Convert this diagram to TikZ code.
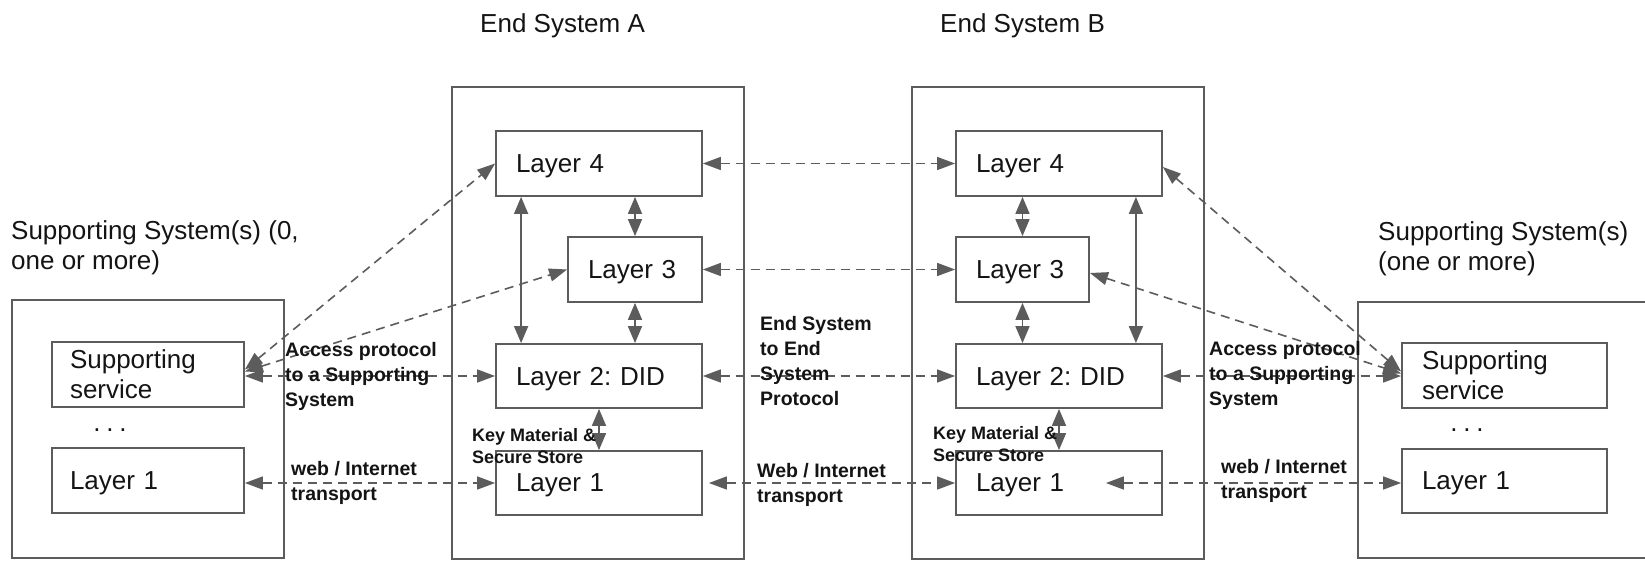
\documentclass[tikz,border=0pt]{standalone}
\usepackage{fontspec}
\setmainfont{Liberation Sans}
\usetikzlibrary{arrows.meta}
\definecolor{lin}{RGB}{92,92,92}
\definecolor{txt}{RGB}{20,20,20}
\frenchspacing
\tikzset{
  box/.style={draw=lin, line width=1.8pt, rectangle, inner ysep=0pt, text=txt},
  lay/.style={box, align=left, inner xsep=20pt, font=\fontsize{26}{30}\selectfont},
  lay1/.style={lay, text depth=0pt},
  outer/.style={draw=lin, line width=1.8pt, rectangle, inner sep=0pt},
  title/.style={inner sep=0pt, anchor=west, align=left, text=txt, text depth=0pt, font=\fontsize{26}{30}\selectfont},
  blbl/.style={inner sep=0pt, anchor=west, align=left, text=txt, font=\fontsize{19.5}{25}\selectfont\bfseries},
  klbl/.style={inner sep=0pt, anchor=west, align=left, text=txt, font=\fontsize{18}{22.5}\selectfont\bfseries},
  dar/.style={draw=lin, line width=1.6pt, dash pattern=on 9pt off 6pt,
    {Triangle[length=18pt,width=13pt]}-{Triangle[length=18pt,width=13pt]}},
  sar/.style={draw=lin, line width=1.6pt,
    {Triangle[length=17pt,width=14pt]}-{Triangle[length=17pt,width=14pt]}},
}
\newcommand{\mydots}{.\hspace{5.8pt}.\hspace{5.8pt}.}
\begin{document}
\begin{tikzpicture}[x=1pt,y=-1pt]
\fill[white] (0,0) rectangle (1645,561);
\clip (0,0) rectangle (1645,561);

% titles
\node[title] (tA) at (480,23) {End System A};
\node[title] (tB) at (940,23) {End System B};
\node[title, text depth=] (tSL) at (11,248) {Supporting System(s) (0,\\one or more)};
\node[title, text depth=] (tSR) at (1378,249) {Supporting System(s)\\(one or more)};

% outer boxes
\node[outer, minimum width=272pt, minimum height=258pt] (SSL) at (148,429) {};
\node[outer, minimum width=292pt, minimum height=472pt] (ESA) at (598,323) {};
\node[outer, minimum width=292pt, minimum height=472pt] (ESB) at (1058,323) {};
\node[outer, minimum width=292pt, minimum height=256pt] (SSR) at (1504,430) {};

% left supporting system
\node[lay, inner xsep=18pt, text width=156pt, minimum height=65pt] (svcL) at (148,374.5) {Supporting\\service};
\node[lay1, inner xsep=18pt, text width=156pt, minimum height=65pt] (L1L) at (148,480.5) {Layer 1};
\node[title, anchor=center] (dotsL) at (110,430) {\mydots};

% end system A
\node[lay1, text width=166pt, minimum height=65pt] (L4A) at (599,163.5) {Layer 4};
\node[lay1, text width=94pt, minimum height=65pt] (L3A) at (635,269.5) {Layer 3};
\node[lay1, text width=166pt, minimum height=64pt] (L2A) at (599,376) {Layer 2: DID};
\node[lay1, text width=166pt, minimum height=64pt] (L1A) at (599,483) {Layer 1};

% end system B
\node[lay1, text width=166pt, minimum height=65pt] (L4B) at (1059,163.5) {Layer 4};
\node[lay1, text width=93pt, minimum height=65pt] (L3B) at (1022.5,269.5) {Layer 3};
\node[lay1, text width=166pt, minimum height=64pt] (L2B) at (1059,376) {Layer 2: DID};
\node[lay1, text width=166pt, minimum height=64pt] (L1B) at (1059,483) {Layer 1};

% right supporting system
\node[lay, text width=165pt, minimum height=65pt] (svcR) at (1504.5,375.5) {Supporting\\service};
\node[lay1, text width=165pt, minimum height=64pt] (L1R) at (1504.5,481) {Layer 1};
\node[title, anchor=center] (dotsR) at (1467,430) {\mydots};

% vertical solid arrows A
\draw[sar] (L4A.south -| L3A.north) -- (L3A.north);
\draw[sar] (L3A.south) -- (L3A.south |- L2A.north);
\draw[sar] ([xshift=26pt]L4A.south west) -- ([xshift=26pt]L2A.north west);
\draw[sar] (L2A.south) -- (L1A.north);
% vertical solid arrows B
\draw[sar] (L4B.south -| L3B.north) -- (L3B.north);
\draw[sar] (L3B.south) -- (L3B.south |- L2B.north);
\draw[sar] ([xshift=-27pt]L4B.south east) -- ([xshift=-27pt]L2B.north east);
\draw[sar] (L2B.south) -- (L1B.north);

% left dashed arrows
\draw[dar] ([yshift=5pt]svcL.east) -- (L4A.west);
\draw[dar] ([yshift=3pt]svcL.east) -- (L3A.west);
\draw[dar] (svcL.east |- L2A.west) -- (L2A.west);
\draw[dar] (L1L.east |- L1A.west) -- (L1A.west);

% middle dashed arrows
\draw[dar] (L4A.east) -- (L4B.west);
\draw[dar] (L3A.east) -- (L3B.west);
\draw[dar] (L2A.east) -- (L2B.west);
\draw[dar] ([xshift=6pt]L1A.east) -- (L1B.west);

% right dashed arrows
\draw[dar] ([yshift=-3.5pt]L4B.east) -- ([yshift=4pt]svcR.west);
\draw[dar] ([yshift=-3.5pt]L3B.east) -- ([yshift=2pt]svcR.west);
\draw[dar] (L2B.east) -- (L2B.east -| svcR.west);
\draw[dar] ([xshift=-57pt]L1B.east) -- (L1B.east -| L1R.west);

% labels
\node[blbl] (accL) at (285,376) {Access protocol\\to a Supporting\\System};
\node[blbl] (webL) at (291,483) {web / Internet\\transport};
\node[blbl] (ese) at (760,361) {End System\\to End\\System\\Protocol};
\node[blbl] (webM) at (757,485) {Web / Internet\\transport};
\node[blbl] (accR) at (1209,375) {Access protocol\\to a Supporting\\System};
\node[blbl] (webR) at (1221,481) {web / Internet\\transport};
\node[klbl] (keyA) at (472,446) {Key Material \&\\Secure Store};
\node[klbl] (keyB) at (933,444) {Key Material \&\\Secure Store};
\end{tikzpicture}
\end{document}
